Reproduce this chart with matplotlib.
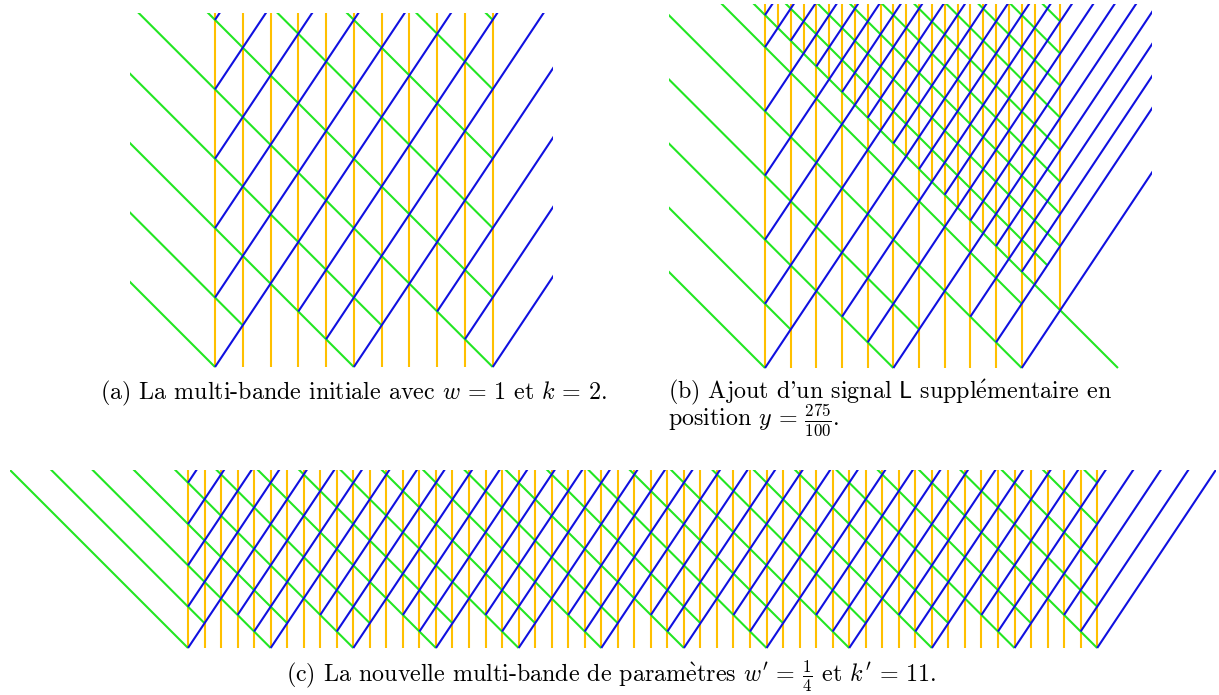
import matplotlib
matplotlib.use("Agg")
import matplotlib.pyplot as plt

plt.rcParams["mathtext.fontset"] = "cm"
plt.rcParams["font.family"] = ["cmr10", "DejaVu Serif"]

W, H = 1219, 695
LW = 1.5

# signal colours
ORANGE = "#ffc000"
GREEN = "#22e622"
BLUE = "#1010e0"

# directions in (x, t): green moves left at speed 1, blue moves right at speed 2/3
GREEN_DIR = (-1.0, 1.0)
BLUE_DIR = (2 / 3, 1.0)

# ---- (a) initial multi-band w=1, k=2 (x in units of stationary-signal spacing) ----
a_vert_x = [0, 1, 2, 3, 4, 5, 6, 7, 8, 9, 10]
a_vert_t = [0, 0, 0, 0, 0, 0, 0, 0, 0, 0, 0]
a_green_x = [0, 1, 5, 6, 10, 10, 10, 10, 10, 10]
a_green_t = [0, 1.5, 0, 1.5, 0, 2.5, 5, 7.5, 10, 12.5]
a_blue_x = [0, 3, 4, 5, 8, 9, 10, 0, 0, 0, 0, 0]
a_blue_t = [0, 2, 1, 0, 2, 1, 0, 2.5, 5, 7.5, 10, 12.5]

# ---- (b) extra L signal added at y = 2.75 (x = 13.75) ----
b_vert_x = [0, 1, 2, 3, 4, 5, 6, 7, 8, 9, 10,
            0.5, 1.5, 2.5, 3.5, 4.5, 5.5, 6.5, 7.5, 8.5, 9.5, 10.5, 11.5]
b_vert_t = [0, 0, 0, 0, 0, 0, 0, 0, 0, 0, 0,
            13.25, 12.25, 11.25, 10.25, 9.25, 8.25, 7.25, 6.25, 5.25, 4.25, 3.25, 2.25]
b_green_x = [0, 1, 5, 6, 10, 10, 13.75, 11,
             11.5, 11.5, 11.5, 11.5, 11.5, 11.5, 11.5, 11.5]
b_green_t = [0, 1.5, 0, 1.5, 0, 2.5, 0, 4,
             4.75, 6, 7.25, 8.5, 9.75, 11, 12.25, 13.5]
b_blue_x = [0, 3, 4, 5, 8, 9, 10, 0, 0, 0, 0, 0,
            0, 1, 2, 3, 4, 5, 6, 7, 8, 9, 10]
b_blue_t = [0, 2, 1, 0, 2, 1, 0, 2.5, 5, 7.5, 10, 12.5,
            13.75, 12.75, 11.75, 10.75, 9.75, 8.75, 7.75, 6.75, 5.75, 4.75, 3.75]

# ---- (c) new multi-band w'=1/4, k'=11 ----
c_vert_x = list(range(56))
c_vert_t = [0] * 56
c_green_x = [0, 1, 5, 6, 10, 11, 15, 16, 20, 21, 25, 26, 30, 31, 35, 36, 40, 41,
             45, 46, 50, 51, 55, 55, 55, 55, 55]
c_green_t = [0, 1.5, 0, 1.5, 0, 1.5, 0, 1.5, 0, 1.5, 0, 1.5, 0, 1.5, 0, 1.5, 0, 1.5,
             0, 1.5, 0, 1.5, 0, 2.5, 5, 7.5, 10]
c_blue_x = [0, 3, 4, 5, 8, 9, 10, 13, 14, 15, 18, 19, 20, 23, 24, 25, 28, 29, 30,
            33, 34, 35, 38, 39, 40, 43, 44, 45, 48, 49, 50, 53, 54, 55, 0, 0, 0, 0]
c_blue_t = [0, 2, 1, 0, 2, 1, 0, 2, 1, 0, 2, 1, 0, 2, 1, 0, 2, 1, 0,
            2, 1, 0, 2, 1, 0, 2, 1, 0, 2, 1, 0, 2, 1, 0, 2.5, 5, 7.5, 10]

fig = plt.figure(figsize=(W / 100, H / 100), dpi=100)


def draw_panel(origin, unit, xlim, tlim, verts, greens, blues):
    # origin = pixel position of (x=0, t=0), unit = pixels per spacing
    ox, oy = origin
    left = ox + xlim[0] * unit
    right = ox + xlim[1] * unit
    top = oy - tlim[1] * unit
    bottom = oy - tlim[0] * unit
    ax = fig.add_axes([left / W, (H - bottom) / H, (right - left) / W, (bottom - top) / H])
    for x, t0 in zip(*verts):
        ax.plot([x, x], [t0, tlim[1] + 5], color=ORANGE, lw=LW, solid_capstyle="butt")
    for x, t in zip(*greens):
        ax.plot([x, x + GREEN_DIR[0] * 200], [t, t + GREEN_DIR[1] * 200],
                color=GREEN, lw=LW, solid_capstyle="butt")
    for x, t in zip(*blues):
        ax.plot([x, x + BLUE_DIR[0] * 200], [t, t + BLUE_DIR[1] * 200],
                color=BLUE, lw=LW, solid_capstyle="butt")
    ax.set_xlim(*xlim)
    ax.set_ylim(*tlim)
    ax.axis("off")
    return ax


draw_panel((215, 367), 27.77, (-3.06, 12.18), (-0.05, 12.75),
           (a_vert_x, a_vert_t), (a_green_x, a_green_t), (a_blue_x, a_blue_t))
draw_panel((765, 368), 25.67, (-3.73, 15.06), (-0.05, 14.18),
           (b_vert_x, b_vert_t), (b_green_x, b_green_t), (b_blue_x, b_blue_t))
draw_panel((188, 648), 16.53, (-10.77, 62.2), (-0.05, 10.77),
           (c_vert_x, c_vert_t), (c_green_x, c_green_t), (c_blue_x, c_blue_t))

FS = 17.3
E_ACUTE = r"$\mathrm{\acute{e}}$"
E_GRAVE = r"$\mathrm{\grave{e}}$"
fig.text(100 / W, 1 - 393 / H, r"(a) La multi-bande initiale avec $w\,=\,1$ et $k\,=\,2$.",
         fontsize=FS, ha="left", va="center")
# caption (b) wraps on two lines, kept as one text
fig.text(668 / W, 1 - 378 / H,
         r"(b) Ajout d'un signal $\mathsf{L}$ suppl" + E_ACUTE + "mentaire en\n"
         + r"position $y\,=\,\frac{275}{100}$.",
         fontsize=FS, ha="left", va="top", linespacing=0.8)
fig.text(611 / W, 1 - 676 / H,
         r"(c) La nouvelle multi-bande de param" + E_GRAVE
         + r"tres $w'\,=\,\frac{1}{4}$ et $k'\,=\,11$.",
         fontsize=FS, ha="center", va="center")

fig.savefig("out.png", dpi=100)
